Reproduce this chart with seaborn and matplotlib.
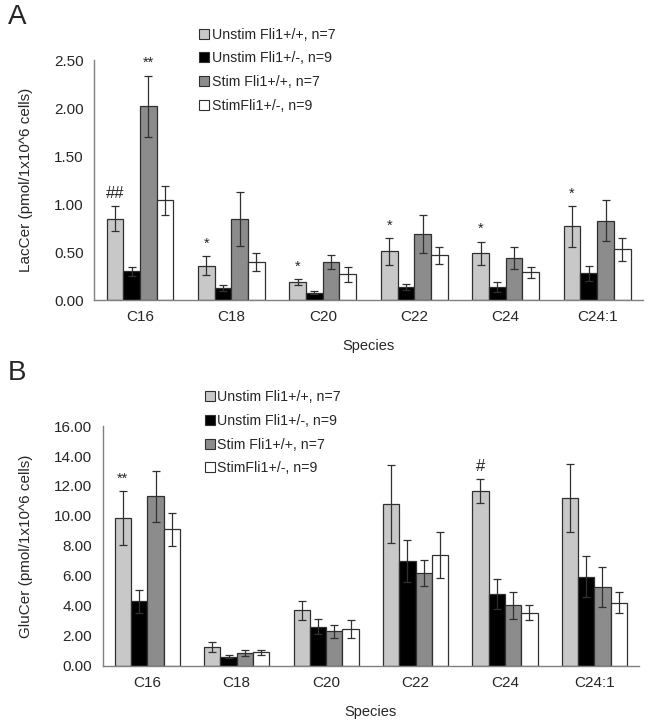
import numpy as np
import pandas as pd
import matplotlib
matplotlib.use("Agg")
import matplotlib.pyplot as plt
from matplotlib.ticker import FormatStrFormatter
import seaborn as sns

# ============================================================================
# DATA
# ============================================================================

species = ["C16", "C18", "C20", "C22", "C24", "C24:1"]
groups = ["Unstim Fli1+/+, n=7", "Unstim Fli1+/-, n=9",
          "Stim Fli1+/+, n=7", "StimFli1+/-, n=9"]
colors = ["#c8c8c8", "#000000", "#8c8c8c", "#ffffff"]

# LacCer means / error (one row per group, one column per species)
lac_mean = [
    [0.85, 0.36, 0.19, 0.51, 0.49, 0.77],
    [0.30, 0.13, 0.08, 0.14, 0.14, 0.28],
    [2.02, 0.85, 0.40, 0.69, 0.44, 0.83],
    [1.04, 0.40, 0.27, 0.47, 0.29, 0.53],
]
lac_err = [
    [0.13, 0.10, 0.03, 0.14, 0.12, 0.21],
    [0.05, 0.03, 0.02, 0.03, 0.05, 0.08],
    [0.32, 0.28, 0.07, 0.20, 0.11, 0.21],
    [0.15, 0.09, 0.08, 0.09, 0.06, 0.12],
]
lac_marks = [("##", 0, 0), ("**", 2, 0), ("*", 0, 1), ("*", 0, 2),
             ("*", 0, 3), ("*", 0, 4), ("*", 0, 5)]  # (text, group, species)

# GluCer means / error
glu_mean = [
    [9.85, 1.25, 3.70, 10.80, 11.65, 11.20],
    [4.30, 0.60, 2.60, 7.00, 4.80, 5.95],
    [11.30, 0.88, 2.30, 6.20, 4.05, 5.25],
    [9.10, 0.92, 2.45, 7.40, 3.55, 4.20],
]
glu_err = [
    [1.80, 0.35, 0.62, 2.60, 0.80, 2.30],
    [0.75, 0.10, 0.50, 1.40, 1.00, 1.38],
    [1.70, 0.20, 0.45, 0.85, 0.90, 1.32],
    [1.10, 0.17, 0.60, 1.55, 0.50, 0.70],
]
glu_marks = [("**", 0, 0), ("#", 0, 4)]


def to_long(means):
    rows = []
    for g, vals in zip(groups, means):
        for s, v in zip(species, vals):
            rows.append({"species": s, "group": g, "value": v})
    return pd.DataFrame(rows)


def draw_panel(ax, means, errs, marks, ymax, ylabel, yticks, ylab_x):
    df = to_long(means)
    sns.barplot(data=df, x="species", y="value", hue="group", order=species,
                hue_order=groups, palette=colors, saturation=1, width=0.73,
                edgecolor="#303030", linewidth=0.9, errorbar=None, ax=ax)
    bar_sets = list(ax.containers)
    centers = {}
    for gi, cont in enumerate(bar_sets):
        xs = [b.get_x() + b.get_width() / 2 for b in cont]
        hs = [b.get_height() for b in cont]
        ax.errorbar(xs, hs, yerr=errs[gi], fmt="none", ecolor="#303030",
                    elinewidth=0.9, capsize=3, capthick=0.9, zorder=5)
        centers[gi] = xs
    for txt, gi, si in marks:
        top = means[gi][si] + errs[gi][si]
        size = 12 if "#" in txt else 10.5
        ax.annotate(txt, (centers[gi][si], top), xytext=(0, 4),
                    textcoords="offset points", ha="center", va="bottom",
                    fontsize=size, annotation_clip=False)
    ax.set_ylim(0, ymax)
    ax.set_yticks(yticks)
    ax.yaxis.set_major_formatter(FormatStrFormatter("%.2f"))
    ax.set_xlim(-0.5, len(species) - 0.5)
    ax.set_xlabel("Species", fontsize=10.5, labelpad=11)
    ax.set_ylabel(ylabel, fontsize=11)
    ax.yaxis.set_label_coords(ylab_x, 0.5)
    for side in ["top", "right"]:
        ax.spines[side].set_visible(False)
    for side in ["left", "bottom"]:
        ax.spines[side].set_color("#808080")
        ax.spines[side].set_linewidth(1.0)
    ax.tick_params(axis="x", length=0, labelsize=11, pad=7)
    ax.tick_params(axis="y", length=4, color="#808080", labelsize=11)
    ax.legend_.remove()


sns.set_style("white")
plt.rcParams["font.family"] = ["Liberation Sans", "DejaVu Sans"]

fig = plt.figure(figsize=(6.54, 7.27), dpi=100)
ax_a = fig.add_axes([0.144, 0.587, 0.839, 0.330])
ax_b = fig.add_axes([0.157, 0.084, 0.820, 0.330])

draw_panel(ax_a, lac_mean, lac_err, lac_marks, 2.5,
           "LacCer (pmol/1x10^6 cells)", [0, 0.5, 1.0, 1.5, 2.0, 2.5], -0.111)
draw_panel(ax_b, glu_mean, glu_err, glu_marks, 16,
           "GluCer (pmol/1x10^6 cells)", [0, 2, 4, 6, 8, 10, 12, 14, 16], -0.129)

for ax, anchor in [(ax_a, (0.305, 0.962)), (ax_b, (0.313, 0.463))]:
    handles = [plt.Rectangle((0, 0), 1, 1, facecolor=c, edgecolor="#303030",
                             linewidth=0.8) for c in colors]
    fig.legend(handles, groups, loc="upper left", bbox_to_anchor=anchor,
               frameon=False, fontsize=10.2, handlelength=0.7,
               handleheight=0.7, handletextpad=0.2, labelspacing=0.68,
               borderaxespad=0, borderpad=0)

fig.text(0.012, 0.995, "A", fontsize=20, va="top", ha="left")
fig.text(0.012, 0.505, "B", fontsize=20, va="top", ha="left")

fig.savefig("out.png", dpi=100)
